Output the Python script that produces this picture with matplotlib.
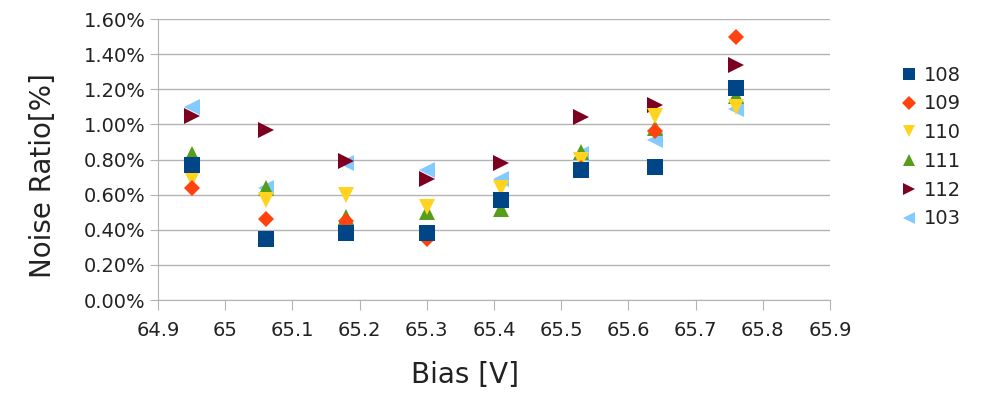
import matplotlib
matplotlib.use("Agg")
import matplotlib.pyplot as plt
from matplotlib.ticker import FuncFormatter

plt.rcParams['font.family'] = ['DejaVu Sans']

# Bias [V]
bias = [64.95, 65.06, 65.18, 65.30, 65.41, 65.53, 65.64, 65.76]

# ノイズ率 [%]
s108 = [0.77, 0.35, 0.38, 0.38, 0.57, 0.74, 0.76, 1.21]
s109 = [0.64, 0.46, 0.45, 0.35, 0.57, 0.75, 0.96, 1.50]
s110 = [0.69, 0.57, 0.60, 0.53, 0.64, 0.80, 1.05, 1.10]
s111 = [0.83, 0.64, 0.47, 0.50, 0.52, 0.84, 0.98, 1.16]
s112 = [1.05, 0.97, 0.79, 0.69, 0.78, 1.04, 1.11, 1.34]
s103 = [1.10, 0.64, 0.78, 0.74, 0.69, 0.83, 0.91, 1.09]

labels = ['108', '109', '110', '111', '112', '103']
series = [s108, s109, s110, s111, s112, s103]
markers = ['s', 'D', 'v', '^', '>', '<']
colors = ['#004586', '#ff420e', '#ffd320', '#579d1c', '#7e0021', '#83caff']
sizes = [11, 8, 11, 11, 11, 11]
zorders = [9, 8, 7, 6, 5, 4]

fig = plt.figure(figsize=(9.82, 3.96), dpi=100)
ax = fig.add_axes([0.1609, 0.2424, 0.6843, 0.7096])

for lab, ys, m, c, ms, z in zip(labels, series, markers, colors, sizes, zorders):
    ax.plot(bias, ys, linestyle='none', marker=m, color=c, markersize=ms,
            markeredgewidth=0, label=lab, zorder=z)

ax.set_xlim(64.9, 65.9)
ax.set_ylim(0, 1.6)
ax.set_xticks([64.9 + 0.1 * i for i in range(11)])
ax.set_yticks([0.2 * i for i in range(9)])
ax.xaxis.set_major_formatter(FuncFormatter(lambda v, p: f"{v:.1f}".rstrip('0').rstrip('.')))
ax.yaxis.set_major_formatter(FuncFormatter(lambda v, p: f"{v:.2f}%"))

ax.grid(axis='y', color='#b3b3b3', linewidth=1)
ax.set_axisbelow(True)
for side in ['top', 'right']:
    ax.spines[side].set_visible(False)
for side in ['left', 'bottom']:
    ax.spines[side].set_color('#b3b3b3')
ax.tick_params(axis='y', length=6, color='#b3b3b3', labelsize=14, pad=3,
               labelcolor='#222222')
ax.tick_params(axis='x', length=7, color='#b3b3b3', labelsize=14, pad=8,
               labelcolor='#222222')

# 軸ラベル
fig.text(465 / 982, 1 - 375 / 396, 'Bias [V]', fontsize=20, ha='center', va='center',
         color='#222222')
fig.text(43 / 982, 1 - 176 / 396, 'Noise Ratio[%]', fontsize=20, ha='center', va='center',
         rotation=90, color='#222222')

fig.legend(loc='center left', bbox_to_anchor=(885 / 982, 1 - 147 / 396), frameon=False,
           fontsize=14, handletextpad=0.0, labelspacing=0.5, markerscale=0.85,
           handlelength=1.5, borderpad=0, labelcolor='#222222')

fig.savefig('out.png', dpi=100)
